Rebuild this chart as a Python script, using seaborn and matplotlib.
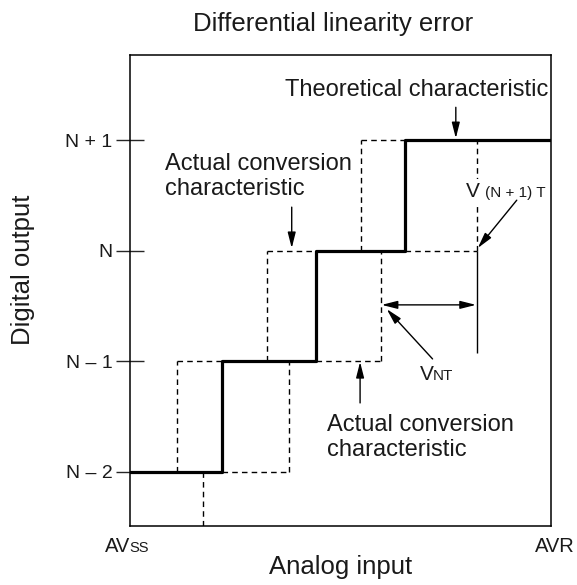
import pandas as pd
import seaborn as sns
import matplotlib.pyplot as plt

sns.set_style('ticks')
plt.rcParams['font.family'] = ['Liberation Sans', 'DejaVu Sans']

# Digital output codes (N-2 .. N+1 mapped to 0..3)
code_levels = [0, 1, 2, 3]
code_labels = ['N \u2013 2', 'N \u2013 1', 'N', 'N + 1']

# Theoretical characteristic: analog input (LSB) where each code starts
theory_x = [0, 1.01, 2.03, 3.0, 4.6]
theory_y = [0, 1, 2, 3, 3]

# Actual conversion characteristic (dashed pieces)
vert_x = [0.51, 0.80, 1.50, 1.74, 2.52, 2.74, 3.79]
vert_y0 = [0, -0.49, 1, 0, 2, 1, 2]
vert_y1 = [1, 0, 2, 1, 3, 2, 3]
horiz_y = [0, 1, 1, 2, 2, 3]
horiz_x0 = [1.01, 0.51, 2.03, 1.50, 3.0, 2.52]
horiz_x1 = [1.74, 1.01, 2.74, 2.03, 3.79, 3.0]

# V_NT width marker
vnt_x0, vnt_x1, vnt_y = 2.74, 3.79, 1.51
marker_y0 = 1.075

rows = []
for i, (x, a, b) in enumerate(zip(vert_x, vert_y0, vert_y1)):
    rows += [('v%d' % i, x, a), ('v%d' % i, x, b)]
for i, (y, a, b) in enumerate(zip(horiz_y, horiz_x0, horiz_x1)):
    rows += [('h%d' % i, a, y), ('h%d' % i, b, y)]
segs = pd.DataFrame(rows, columns=['seg', 'x', 'y'])

W, H = 577, 585
fig = plt.figure(figsize=(W / 100, H / 100), dpi=100)
ax = fig.add_axes([130 / W, 1 - 526 / H, 421 / W, 471 / H])


def fpos(px, py):
    return px / W, 1 - py / H


# dashed actual characteristic
sns.lineplot(data=segs, x='x', y='y', units='seg', estimator=None, sort=False,
             color='black', lw=1, linestyle=(0, (4, 3)), legend=False, ax=ax)
# theoretical characteristic
sns.lineplot(x=theory_x, y=theory_y, drawstyle='steps-post', color='black',
             lw=2.3, ax=ax)
ax.vlines(vnt_x1, marker_y0, 2, color='black', lw=1)

arrow = dict(arrowstyle='-|>,head_length=0.95,head_width=0.24', color='black',
             lw=1, mutation_scale=10, shrinkA=0, shrinkB=0)
ax.annotate('', xy=(vnt_x0 + 0.01, vnt_y), xytext=(vnt_x1 - 0.01, vnt_y),
            arrowprops=dict(arrow, arrowstyle='<|-|>,head_length=0.95,head_width=0.24'))

tc = '#1a1a1a'
ax.annotate('', xy=(3.56, 3.017), xytext=(3.56, 3.297), arrowprops=arrow)
ax.text(4.57, 3.45, 'Theoretical characteristic', ha='right', va='center',
        fontsize=17, color=tc)

ax.annotate('', xy=(1.767, 2.023), xytext=(1.767, 2.394), arrowprops=arrow)
ax.text(0.383, 2.67, 'Actual conversion\ncharacteristic', ha='left',
        va='center', fontsize=17, color=tc, linespacing=1.22)

ax.annotate('', xy=(2.514, 0.994), xytext=(2.514, 0.623), arrowprops=arrow)
ax.text(2.15, 0.31, 'Actual conversion\ncharacteristic', ha='left',
        va='center', fontsize=17, color=tc, linespacing=1.22)

ax.annotate('', xy=(3.80, 2.024), xytext=(4.226, 2.457), arrowprops=arrow)
ax.text(3.672, 2.49, 'V', ha='left', va='baseline', fontsize=15, color=tc,
        bbox=dict(facecolor='white', edgecolor='none', pad=1.5))
ax.text(3.88, 2.49, '(N + 1) T', ha='left', va='baseline', fontsize=11,
        color=tc)

ax.annotate('', xy=(2.805, 1.472), xytext=(3.306, 1.021), arrowprops=arrow)
ax.text(3.17, 0.831, 'V', ha='left', va='baseline', fontsize=15, color=tc)
ax.text(3.312, 0.831, 'NT', ha='left', va='baseline', fontsize=11, color=tc)

ax.set_xlim(0, 4.6)
ax.set_ylim(-0.49, 3.77)
ax.set_xticks([])
ax.set_yticks(code_levels, code_labels)
ax.tick_params(axis='y', direction='inout', length=19.5, width=1, pad=3,
               labelsize=14, labelcolor=tc)
ax.set_xlabel('')
ax.set_ylabel('')
for s in ax.spines.values():
    s.set_linewidth(1.1)
    s.set_color('black')

fig.text(*fpos(333, 24), 'Differential linearity error', ha='center',
         va='center', fontsize=18.5, color=tc)
fig.text(*fpos(341, 567), 'Analog input', ha='center', va='center',
         fontsize=18.5, color=tc)
fig.text(*fpos(23, 270), 'Digital output', ha='center', va='center',
         rotation=90, fontsize=18.5, color=tc)
fig.text(*fpos(105, 552), 'AV', ha='left', va='baseline', fontsize=14.5,
         color=tc)
fig.text(*fpos(129.5, 552), 'SS', ha='left', va='baseline', fontsize=10.5,
         color=tc)
fig.text(*fpos(575, 552), 'AVR', ha='right', va='baseline', fontsize=14.5,
         color=tc)

fig.savefig('out.png', dpi=100)
